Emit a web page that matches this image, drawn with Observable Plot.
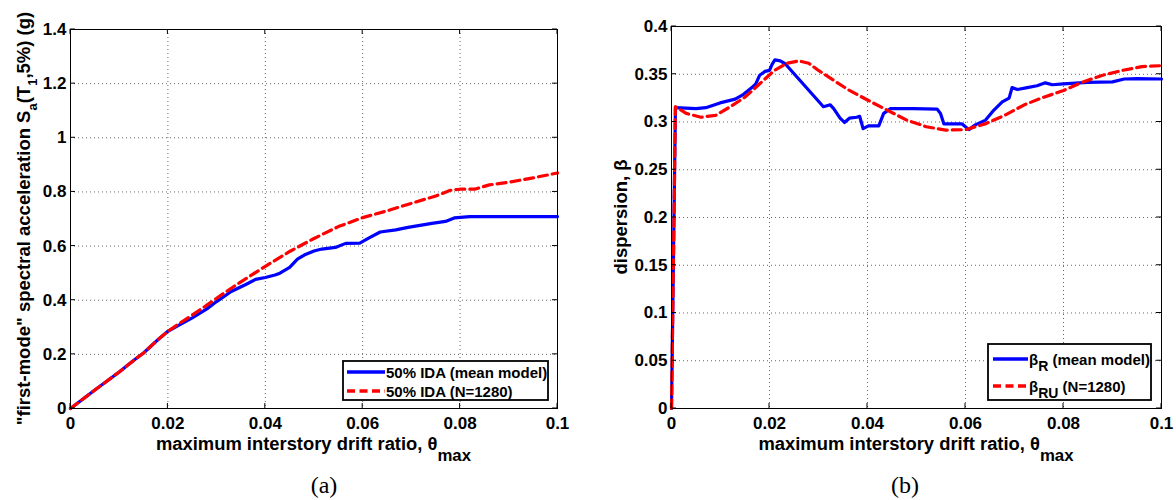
<!DOCTYPE html>
<html><head><meta charset="utf-8">
<script src="https://cdn.jsdelivr.net/npm/d3@7"></script>
<script src="https://cdn.jsdelivr.net/npm/@observablehq/plot@0.6"></script>
<style>
body{margin:0;background:#fff;}
#wrap{position:relative;width:1176px;height:500px;overflow:hidden;background:#fff;}
#wrap svg{position:absolute;top:0;}
</style></head><body><div id="wrap"></div>
<script>
// ---- tick values ----
const xTicks = [0, 0.02, 0.04, 0.06, 0.08, 0.1];
const aYTicks = [0, 0.2, 0.4, 0.6, 0.8, 1, 1.2, 1.4];
const bYTicks = [0, 0.05, 0.1, 0.15, 0.2, 0.25, 0.3, 0.35, 0.4];

// ---- panel (a): 50% IDA curves ----
const aBlueX = [0, 0.005, 0.01, 0.013, 0.015, 0.018, 0.02, 0.022, 0.025, 0.028, 0.030, 0.033, 0.036, 0.038, 0.040, 0.042, 0.043, 0.045, 0.0466, 0.048, 0.050, 0.0516, 0.0544, 0.0565, 0.0594, 0.0615, 0.0636, 0.0668, 0.0693, 0.0742, 0.077, 0.0788, 0.082, 0.1];
const aBlueY = [0, 0.068, 0.135, 0.178, 0.205, 0.255, 0.285, 0.305, 0.335, 0.368, 0.395, 0.432, 0.458, 0.477, 0.484, 0.493, 0.5, 0.521, 0.552, 0.567, 0.582, 0.589, 0.595, 0.61, 0.611, 0.632, 0.652, 0.66, 0.669, 0.684, 0.691, 0.704, 0.709, 0.709];
const aRedX = [0, 0.005, 0.01, 0.013, 0.015, 0.018, 0.02, 0.022, 0.025, 0.028, 0.031, 0.035, 0.04, 0.045, 0.05, 0.055, 0.06, 0.065, 0.07, 0.075, 0.078, 0.08, 0.083, 0.086, 0.09, 0.095, 0.1];
const aRedY = [0, 0.068, 0.135, 0.178, 0.205, 0.255, 0.285, 0.31, 0.345, 0.382, 0.42, 0.468, 0.525, 0.58, 0.628, 0.672, 0.705, 0.73, 0.758, 0.785, 0.806, 0.81, 0.81, 0.826, 0.836, 0.852, 0.87];

// ---- panel (b): dispersion ----
const bBlueX = [0, 0.0008, 0.005, 0.007, 0.0099, 0.013, 0.0147, 0.0164, 0.0172, 0.018, 0.0191, 0.02, 0.0205, 0.0211, 0.0222, 0.0232, 0.031, 0.0324, 0.0331, 0.0344, 0.0353, 0.0363, 0.0378, 0.0384, 0.0391, 0.0402, 0.0423, 0.0433, 0.0447, 0.0494, 0.0542, 0.0549, 0.0556, 0.0593, 0.0607, 0.062, 0.0641, 0.0658, 0.0675, 0.0689, 0.0695, 0.0706, 0.0726, 0.0746, 0.0763, 0.0777, 0.08, 0.0849, 0.09, 0.0924, 0.0951, 0.1];
const bBlueY = [0, 0.315, 0.314, 0.315, 0.320, 0.324, 0.329, 0.336, 0.340, 0.349, 0.353, 0.354, 0.36, 0.365, 0.364, 0.361, 0.316, 0.318, 0.314, 0.304, 0.2995, 0.304, 0.305, 0.306, 0.293, 0.296, 0.296, 0.309, 0.314, 0.314, 0.3135, 0.309, 0.298, 0.298, 0.292, 0.297, 0.302, 0.3125, 0.321, 0.325, 0.336, 0.334, 0.336, 0.338, 0.341, 0.339, 0.340, 0.3415, 0.342, 0.345, 0.3455, 0.345];
const bRedX = [0, 0.0008, 0.003, 0.006, 0.009, 0.012, 0.015, 0.018, 0.021, 0.0235, 0.026, 0.028, 0.03, 0.033, 0.036, 0.04, 0.044, 0.048, 0.052, 0.056, 0.06, 0.064, 0.068, 0.072, 0.076, 0.08, 0.084, 0.088, 0.092, 0.096, 0.1];
const bRedY = [0, 0.316, 0.309, 0.305, 0.307, 0.316, 0.326, 0.340, 0.354, 0.3615, 0.364, 0.3615, 0.354, 0.344, 0.334, 0.323, 0.3125, 0.302, 0.295, 0.2915, 0.292, 0.298, 0.307, 0.318, 0.326, 0.333, 0.342, 0.349, 0.354, 0.358, 0.359];

// ---- texts ----
const xLabelMain = "maximum interstory drift ratio, \u03b8";
const xLabelSub = "max";
const aYLabelParts = [["\"first-mode\" spectral acceleration S", false], ["a", true], ["(T", false], ["1", true], [",5%) (g)", false]];
const bYLabelParts = [["dispersion, \u03b2", false]];
const aLegend = [[["50% IDA (mean model)", false]], [["50% IDA (N=1280)", false]]];
const bLegend = [[["\u03b2", false], ["R", true], [" (mean model)", false]], [["\u03b2", false], ["RU", true], [" (N=1280)", false]]];
const captions = ["(a)", "(b)"];

const FONT = "'Liberation Sans', Arial, Helvetica, sans-serif";
const SERIF = "'Liberation Serif', 'Times New Roman', Times, serif";
const BLUE = "#0000ff", RED = "#ff0000";
const fmt = d => String(+d.toFixed(4));

function addParts(text, parts, size, subSize, shift) {
  let down = false;
  parts.forEach(([s, sub]) => {
    const t = text.append("tspan").text(s).attr("font-size", sub ? subSize : size);
    if (sub && !down) { t.attr("dy", shift); down = true; }
    else if (!sub && down) { t.attr("dy", -shift); down = false; }
  });
}

function panel(o) {
  const plot = Plot.plot({
    width: o.width, height: 500,
    marginLeft: o.ml, marginRight: o.mr, marginTop: o.mt, marginBottom: o.mb,
    style: {fontFamily: FONT, fontSize: "17px", fontWeight: "bold", color: "black", background: "transparent", overflow: "visible"},
    x: {domain: [0, 0.1]},
    y: {domain: [0, o.yMax]},
    marks: [
      Plot.gridX(xTicks, {stroke: "#666", strokeOpacity: 1, strokeDasharray: "1,3"}),
      Plot.gridY(o.yTicks, {stroke: "#666", strokeOpacity: 1, strokeDasharray: "1,3"}),
      Plot.line(o.blueY, {x: o.blueX, y: o.blueY, stroke: BLUE, strokeWidth: 3.2}),
      Plot.line(o.redY, {x: o.redX, y: o.redY, stroke: RED, strokeWidth: 3.2, strokeDasharray: "9,5"}),
      Plot.frame({stroke: "black", strokeWidth: 1}),
      Plot.axisX({ticks: xTicks, tickSize: 0, tickPadding: 8, tickFormat: fmt, label: null, fontSize: 17, fontWeight: "bold"}),
      Plot.axisY({ticks: o.yTicks, tickSize: 0, tickPadding: 4, tickFormat: fmt, label: null, fontSize: 17, fontWeight: "bold"})
    ]
  });
  plot.style.left = o.left + "px";
  document.getElementById("wrap").appendChild(plot);
  const svg = d3.select(plot);
  const sx = plot.scale("x"), sy = plot.scale("y");
  const x0 = sx.apply(0), x1 = sx.apply(0.1), y0 = sy.apply(0), y1 = sy.apply(o.yMax);
  const tk = 5;
  const g = svg.append("g").attr("stroke", "black").attr("stroke-width", 1);
  xTicks.forEach(v => {
    const x = sx.apply(v);
    g.append("line").attr("x1", x).attr("x2", x).attr("y1", y0).attr("y2", y0 - tk);
    g.append("line").attr("x1", x).attr("x2", x).attr("y1", y1).attr("y2", y1 + tk);
  });
  o.yTicks.forEach(v => {
    const y = sy.apply(v);
    g.append("line").attr("y1", y).attr("y2", y).attr("x1", x0).attr("x2", x0 + tk);
    g.append("line").attr("y1", y).attr("y2", y).attr("x1", x1).attr("x2", x1 - tk);
  });
  // x label
  const xl = svg.append("text").attr("transform", `translate(${(x0 + x1) / 2},450) scale(1.05,1)`)
    .attr("text-anchor", "middle").attr("font-family", FONT).attr("font-weight", "bold").attr("fill", "black");
  addParts(xl, [[xLabelMain, false], [xLabelSub, true]], 17.5, 16, 11);
  // y label
  const yl = svg.append("text").attr("transform", `translate(${o.yLabelX},${(y0 + y1) / 2}) rotate(-90)`)
    .attr("text-anchor", "middle").attr("font-family", FONT).attr("font-weight", "bold").attr("fill", "black");
  addParts(yl, o.yLabel, 18.5, 13, 7);
  // legend
  const L = o.legend;
  const lg = svg.append("g");
  lg.append("rect").attr("x", L.x).attr("y", L.y).attr("width", L.w).attr("height", L.h)
    .attr("fill", "white").attr("stroke", "black").attr("stroke-width", 1.8);
  L.rows.forEach((row, i) => {
    const cy = L.rowY[i];
    lg.append("line").attr("x1", L.lx1).attr("x2", L.lx2).attr("y1", cy).attr("y2", cy)
      .attr("stroke", i === 0 ? BLUE : RED).attr("stroke-width", 3.5)
      .attr("stroke-dasharray", i === 0 ? null : "8,4.5");
    const t = lg.append("text").attr("x", L.lx2 + 1).attr("y", cy + 5.5).attr("text-anchor", "start")
      .attr("font-family", FONT).attr("font-weight", "bold").attr("fill", "black");
    addParts(t, row, 15, 14, 6);
  });
  // caption
  svg.append("text").attr("x", o.capX).attr("y", 493).attr("text-anchor", "middle")
    .attr("font-family", SERIF).attr("font-weight", "normal").attr("font-size", 24).attr("fill", "black").text(o.caption);
}

panel({left: 0, width: 588, ml: 70, mr: 31, mt: 29, mb: 92, yMax: 1.4, yTicks: aYTicks,
  blueX: aBlueX, blueY: aBlueY, redX: aRedX, redY: aRedY, yLabel: aYLabelParts, yLabelX: 30,
  legend: {x: 343, y: 361, w: 205, h: 39, lx1: 347, lx2: 385, rowY: [372, 391], rows: aLegend},
  capX: 324, caption: captions[0]});

panel({left: 588, width: 588, ml: 83, mr: 15, mt: 26, mb: 92, yMax: 0.4, yTicks: bYTicks,
  blueX: bBlueX, blueY: bBlueY, redX: bRedX, redY: bRedY, yLabel: bYLabelParts, yLabelX: 39,
  legend: {x: 400, y: 344, w: 163, h: 56, lx1: 405, lx2: 440, rowY: [359, 386], rows: bLegend},
  capX: 317, caption: captions[1]});
</script></body></html>
